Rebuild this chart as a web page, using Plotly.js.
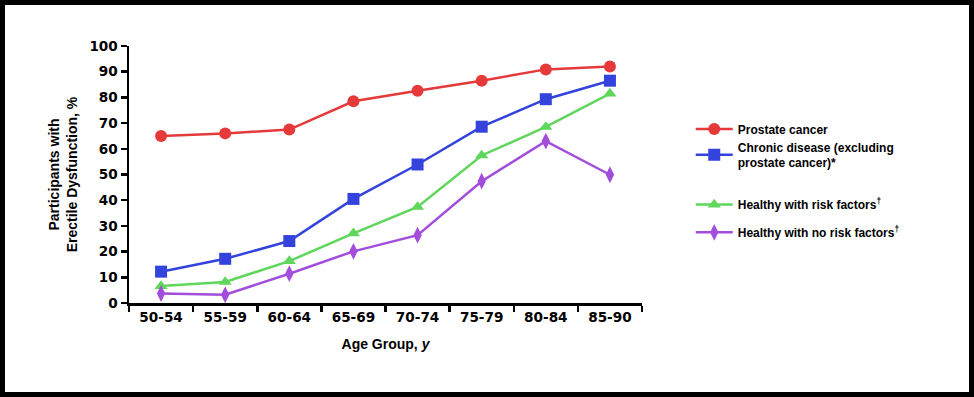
<!DOCTYPE html>
<html>
<head>
<meta charset="utf-8">
<script src="https://cdn.plot.ly/plotly-3.0.1.min.js"></script>
<style>
  html, body { margin: 0; padding: 0; background: #fff; }
  #wrap { position: relative; width: 974px; height: 397px; }
  #chart { position: absolute; left: 0; top: 0; width: 974px; height: 397px; }
  #frame { position: absolute; left: 0; top: 0; width: 974px; height: 397px;
           box-sizing: border-box; border: 5px solid #000; pointer-events: none; z-index: 10; }
</style>
</head>
<body>
<div id="wrap">
  <div id="chart"></div>
  <div id="frame"></div>
</div>
<script>
// ---- data ----
const ageGroups = ['50-54', '55-59', '60-64', '65-69', '70-74', '75-79', '80-84', '85-90'];
const prostateCancer = [65.0, 66.0, 67.5, 78.5, 82.6, 86.5, 90.9, 92.0];
const chronicDisease = [12.2, 17.2, 24.1, 40.5, 53.9, 68.6, 79.3, 86.5];
const healthyRisk = [6.6, 8.2, 16.3, 27.1, 37.4, 57.4, 68.5, 81.5];
const healthyNoRisk = [3.7, 3.2, 11.4, 20.1, 26.4, 47.4, 63.0, 49.9];
const yTickVals = [0, 10, 20, 30, 40, 50, 60, 70, 80, 90, 100];

const seriesNames = [
  'Prostate cancer',
  'Chronic disease (excluding<br>prostate cancer)*',
  'Healthy with risk factors<sup><span style="color:#000">†</span></sup>',
  'Healthy with no risk factors<sup><span style="color:#000">†</span></sup>'
];

const tickFont = { family: 'DejaVu Sans, Arial, sans-serif', size: 13.6, color: '#000', weight: 'bold' };
const titleFont = { family: 'Liberation Sans, Arial, sans-serif', size: 14, color: '#000', weight: 'bold' };
const legendFont = { family: 'Liberation Sans, Arial, sans-serif', size: 12, color: '#000', weight: 'bold' };

function mk(y, name, color, symbol, size, legendId) {
  return {
    type: 'scatter', mode: 'lines+markers',
    x: ageGroups, y: y, name: name,
    line: { color: color, width: 2.5 },
    marker: { color: color, symbol: symbol, size: size },
    legend: legendId, cliponaxis: false
  };
}

const traces = [
  mk(prostateCancer, seriesNames[0], '#e5393a', 'circle', 12, 'legend'),
  mk(chronicDisease, seriesNames[1], '#3343db', 'square', 12, 'legend2'),
  mk(healthyRisk, seriesNames[2], '#5fd65c', 'triangle-up', 11.5, 'legend3'),
  mk(healthyNoRisk, seriesNames[3], '#a24ddb', 'diamond-tall', 12, 'legend4')
];

function legendAt(y) {
  return {
    x: 1.095, xanchor: 'left', y: y, yanchor: 'middle',
    font: legendFont, bgcolor: 'rgba(0,0,0,0)', borderwidth: 0,
    itemwidth: 37, valign: 'middle'
  };
}

const layout = {
  width: 974, height: 397,
  margin: { l: 129, r: 332, t: 46, b: 94 },
  paper_bgcolor: '#fff', plot_bgcolor: '#fff',
  showlegend: true,
  xaxis: {
    type: 'category', range: [-0.5, 7.5],
    showline: true, linecolor: '#000', linewidth: 2.5,
    ticks: 'outside', tickson: 'boundaries', ticklen: 6, tickwidth: 2.5, tickcolor: '#000',
    tickfont: tickFont, showgrid: false, zeroline: false,
    title: { text: 'Age Group, <i>y</i>', font: titleFont, standoff: 16 }
  },
  yaxis: {
    range: [0, 100], tickvals: yTickVals,
    showline: true, linecolor: '#000', linewidth: 2.5,
    ticks: 'outside', ticklen: 6, tickwidth: 2.5, tickcolor: '#000',
    tickfont: tickFont, showgrid: false, zeroline: false,
    title: { text: 'Participants with<br>Erectile Dysfunction, %', font: titleFont, standoff: 9 }
  },
  legend: legendAt(0.677),
  legend2: legendAt(0.575),
  legend3: legendAt(0.383),
  legend4: legendAt(0.275)
};

Plotly.newPlot('chart', traces, layout, { displayModeBar: false, staticPlot: true });
</script>
</body>
</html>
